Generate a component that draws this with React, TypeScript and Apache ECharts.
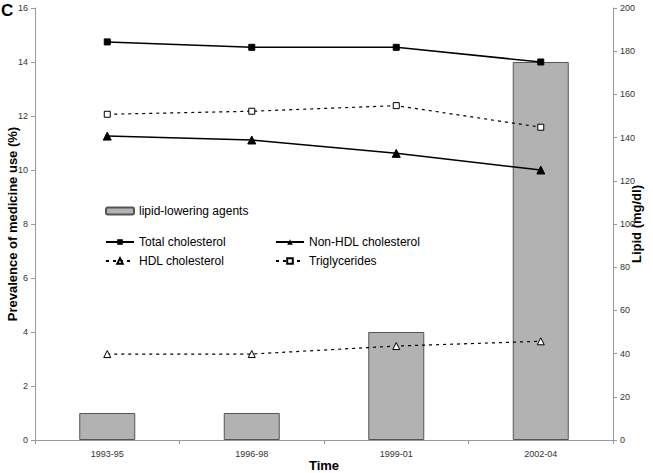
import React, { useEffect, useRef } from "react";
import * as echarts from "echarts";

const categories = ["1993-95", "1996-98", "1999-01", "2002-04"];
const lipidLowering = [1, 1, 4, 14];
const totalChol = [184.3, 181.8, 181.8, 175];
const nonHdlChol = [140.7, 138.9, 132.7, 125];
const hdlChol = [39.8, 39.8, 43.5, 45.7];
const triglycerides = [150.8, 152.2, 154.8, 144.8];
const leftTicks = { min: 0, max: 16, interval: 2 };
const rightTicks = { min: 0, max: 200, interval: 20 };

const FONT = "Liberation Sans, Arial, sans-serif";
const AXIS_GRAY = "#999999";

export default function App() {
  const ref = useRef<HTMLDivElement>(null);
  useEffect(() => {
    if (!ref.current) return;
    const chart = echarts.init(ref.current, undefined, { renderer: "svg" });
    const legendText = { fontFamily: FONT, fontSize: 12, color: "#000" };
    const mkLegend = (name: string, left: number, top: number) => ({
      show: true,
      data: [name],
      left,
      top,
      orient: "horizontal",
      itemWidth: 28,
      itemHeight: 7,
      itemGap: 4,
      padding: 0,
      textStyle: legendText,
    });
    chart.setOption({
      animation: false,
      backgroundColor: "#fff",
      textStyle: { fontFamily: FONT },
      grid: { left: 35, right: 40, top: 8, bottom: 33, outerBoundsMode: "none", containLabel: false },
      legend: [
        mkLegend("lipid-lowering agents", 105, 205),
        mkLegend("Total cholesterol", 105, 236),
        mkLegend("Non-HDL cholesterol", 275, 236),
        mkLegend("HDL cholesterol", 105, 255),
        mkLegend("Triglycerides", 275, 255),
      ],
      graphic: [
        {
          type: "text",
          left: 1,
          top: 2,
          style: { text: "C", font: `bold 17px ${FONT}`, fill: "#000" },
        },
      ],
      xAxis: {
        type: "category",
        data: categories,
        boundaryGap: true,
        name: "Time",
        nameLocation: "middle",
        nameGap: 19,
        nameMoveOverlap: false,
        nameTextStyle: { fontFamily: FONT, fontSize: 13, fontWeight: "bold", color: "#000" },
        axisLine: { lineStyle: { color: AXIS_GRAY, width: 1 } },
        axisTick: { show: true, length: 4, inside: false, lineStyle: { color: AXIS_GRAY } },
        axisLabel: { fontFamily: FONT, fontSize: 9, color: "#333", margin: 9 },
      },
      yAxis: [
        {
          type: "value",
          position: "left",
          ...leftTicks,
          name: "Prevalence of medicine use (%)",
          nameLocation: "middle",
          nameGap: 16,
          nameMoveOverlap: false,
          nameTextStyle: { fontFamily: FONT, fontSize: 13, fontWeight: "bold", color: "#000" },
          axisLine: { show: true, lineStyle: { color: AXIS_GRAY, width: 1 } },
          axisTick: { show: true, length: 4, lineStyle: { color: AXIS_GRAY } },
          axisLabel: { fontFamily: FONT, fontSize: 9, color: "#333", margin: 7 },
          splitLine: { show: false },
        },
        {
          type: "value",
          position: "right",
          ...rightTicks,
          name: "Lipid (mg/dl)",
          nameLocation: "middle",
          nameGap: 17,
          nameRotate: 90,
          nameMoveOverlap: false,
          nameTextStyle: { fontFamily: FONT, fontSize: 13, fontWeight: "bold", color: "#000" },
          axisLine: { show: true, lineStyle: { color: AXIS_GRAY, width: 1 } },
          axisTick: { show: true, length: 4, lineStyle: { color: AXIS_GRAY } },
          axisLabel: { fontFamily: FONT, fontSize: 9, color: "#333", margin: 7 },
          splitLine: { show: false },
        },
      ],
      series: [
        {
          name: "lipid-lowering agents",
          type: "bar",
          yAxisIndex: 0,
          data: lipidLowering,
          barWidth: 56,
          itemStyle: { color: "#b2b2b2", borderColor: "#555", borderWidth: 1 },
        },
        {
          name: "Total cholesterol",
          type: "line",
          yAxisIndex: 1,
          data: totalChol,
          symbol: "rect",
          symbolSize: 6,
          itemStyle: { color: "#000", borderColor: "#000" },
          lineStyle: { color: "#000", width: 1.5 },
        },
        {
          name: "Non-HDL cholesterol",
          type: "line",
          yAxisIndex: 1,
          data: nonHdlChol,
          symbol: "triangle",
          symbolSize: 8,
          itemStyle: { color: "#000", borderColor: "#000" },
          lineStyle: { color: "#000", width: 1.5 },
        },
        {
          name: "HDL cholesterol",
          type: "line",
          yAxisIndex: 1,
          data: hdlChol,
          symbol: "triangle",
          symbolSize: 7,
          itemStyle: { color: "#fff", borderColor: "#000", borderWidth: 1 },
          lineStyle: { color: "#000", width: 1.2, type: [3, 4] },
        },
        {
          name: "Triglycerides",
          type: "line",
          yAxisIndex: 1,
          data: triglycerides,
          symbol: "rect",
          symbolSize: 6,
          itemStyle: { color: "#fff", borderColor: "#000", borderWidth: 1 },
          lineStyle: { color: "#000", width: 1.2, type: [3, 4] },
        },
      ],
    });
    return () => chart.dispose();
  }, []);
  return <div ref={ref} style={{ width: 653, height: 473, position: "absolute", left: 0, top: 0 }} />;
}
